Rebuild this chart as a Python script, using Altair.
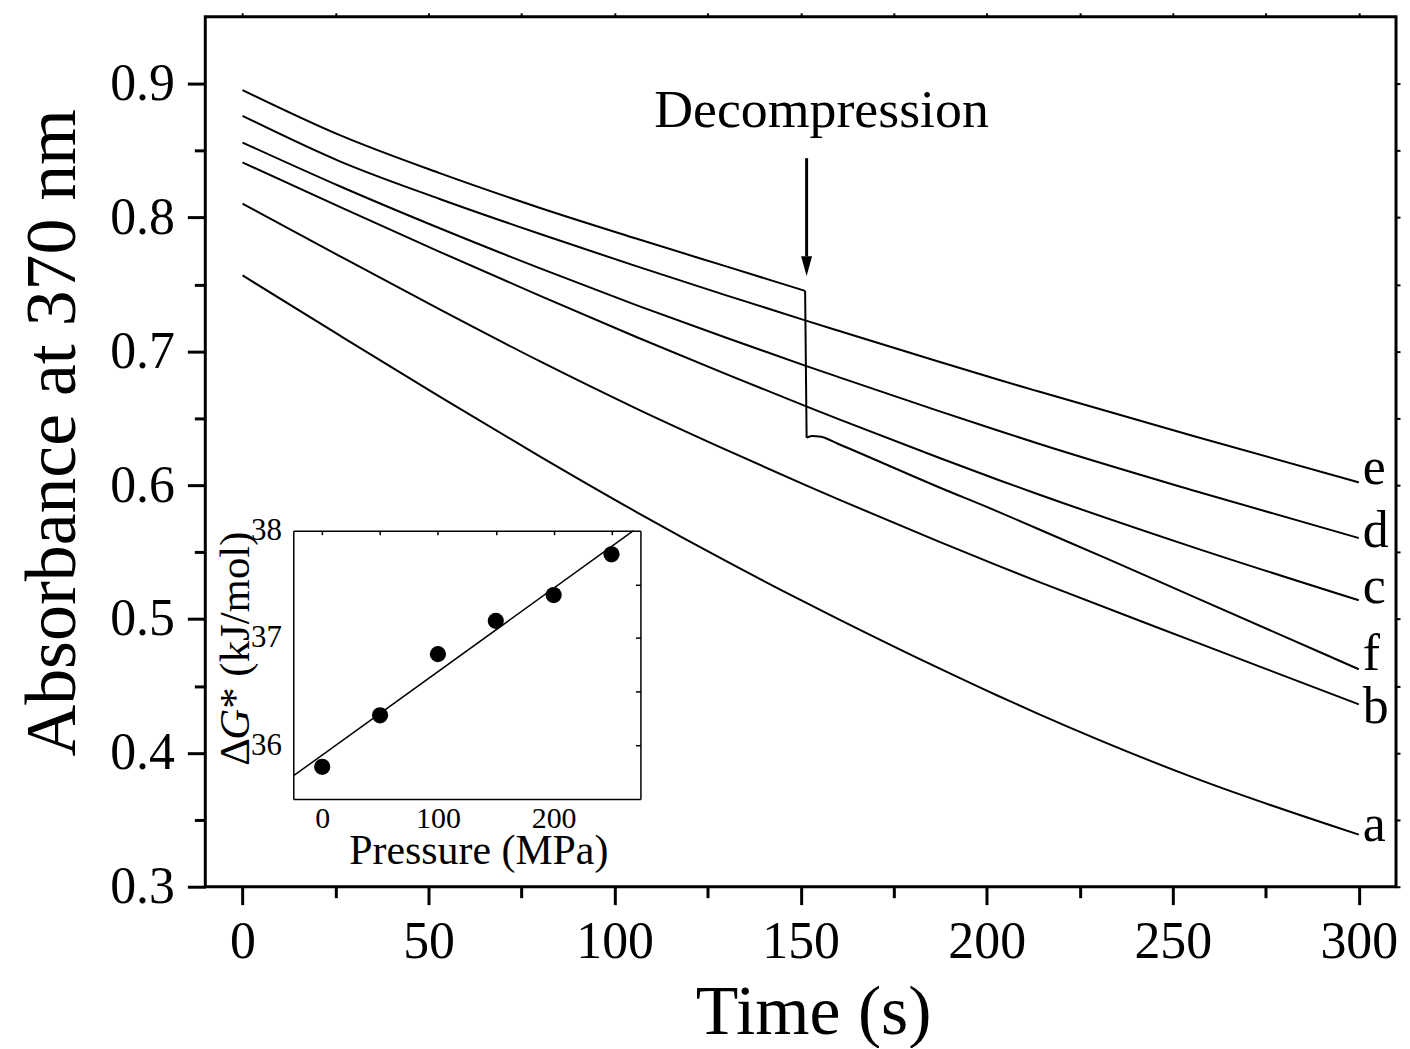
import altair as alt
import pandas as pd

# ---------------- main panel data ----------------
time_main = [0, 26, 53, 80, 106, 130, 151, 160, 187, 203, 214, 256, 300]
abs_a = [0.7568, 0.7121, 0.6662, 0.6214, 0.5798, 0.5433, 0.5128, 0.5002, 0.4635, 0.4427, 0.4290, 0.3811, 0.3389]
abs_b = [0.8104, 0.7714, 0.7314, 0.6925, 0.6571, 0.6264, 0.6004, 0.5896, 0.5580, 0.5399, 0.5278, 0.4829, 0.4363]
abs_c = [0.8412, 0.8082, 0.7744, 0.7415, 0.7106, 0.6830, 0.6595, 0.6496, 0.6207, 0.6041, 0.5931, 0.5532, 0.5140]
abs_d = [0.8561, 0.8236, 0.7920, 0.7620, 0.7344, 0.7102, 0.6896, 0.6810, 0.6556, 0.6409, 0.6310, 0.5957, 0.5605]
abs_e = [0.8760, 0.8422, 0.8139, 0.7877, 0.7635, 0.7419, 0.7234, 0.7156, 0.6924, 0.6790, 0.6700, 0.6364, 0.6021]
# curve f: decompression at ~151 s produces the sudden drop
time_f = [0, 26, 53, 80, 106, 130, 151.2, 151.6, 153, 155.5, 160, 187, 203, 214, 232, 256, 300]
abs_f = [0.8953, 0.8618, 0.8332, 0.8072, 0.7842, 0.7635, 0.7452, 0.6355, 0.6368, 0.6362, 0.6310, 0.5987, 0.5803, 0.5671, 0.5455, 0.5162, 0.4625]
jump_index = 6  # last point before the drop

label_names = ["a", "b", "c", "d", "e", "f"]
label_time = [300, 300, 300, 300, 300, 300]
label_abs = [0.3345, 0.4226, 0.5120, 0.5536, 0.6012, 0.4623]

annot_text = ["Decompression"]
annot_time = [155.6]
annot_abs = [0.868]
arrow_time = [151.6]
arrow_top = [0.8444]
arrow_base = [0.7710]
arrow_head = [0.7637]

x_major = [0, 50, 100, 150, 200, 250, 300]
x_minor = [25, 75, 125, 175, 225, 275]
x_all = [0, 25, 50, 75, 100, 125, 150, 175, 200, 225, 250, 275, 300]
y_major = [0.3, 0.4, 0.5, 0.6, 0.7, 0.8, 0.9]
y_minor = [0.35, 0.45, 0.55, 0.65, 0.75, 0.85]
y_all = [0.3, 0.35, 0.4, 0.45, 0.5, 0.55, 0.6, 0.65, 0.7, 0.75, 0.8, 0.85, 0.9]

# ---------------- inset data ----------------
pressure_mpa = [0, 50, 100, 150, 200, 250]
delta_g = [35.80, 36.28, 36.85, 37.16, 37.40, 37.78]
fit_mpa = [-25, 269]
fit_g = [35.715, 38.0]
inset_x_labels = [0, 100, 200]
inset_x_ticks = [0, 50, 100, 150, 200, 250]
inset_y_labels = [36, 37, 38]
inset_y_ticks = [36, 36.5, 37, 37.5]

FONT = "Liberation Serif"
W, H = 1195, 873

rows = []
for name, vals in [("a", abs_a), ("b", abs_b), ("c", abs_c), ("d", abs_d), ("e", abs_e)]:
    for t, v in zip(time_main, vals):
        rows.append({"curve": name, "t": t, "A": v})
for i, (t, v) in enumerate(zip(time_f, abs_f)):
    if i <= jump_index:
        rows.append({"curve": "f_before", "t": t, "A": v})
    if i >= jump_index + 1:
        rows.append({"curve": "f_after", "t": t, "A": v})
    if i in (jump_index, jump_index + 1):
        rows.append({"curve": "f_drop", "t": t, "A": v})
curves_df = pd.DataFrame(rows)
labels_df = pd.DataFrame({"label": label_names, "t": label_time, "A": label_abs})
annot_df = pd.DataFrame({"text": annot_text, "t": annot_time, "A": annot_abs})
arrow_df = pd.DataFrame({"t": arrow_time, "top": arrow_top, "base": arrow_base, "head": arrow_head})
inset_df = pd.DataFrame({"p": pressure_mpa, "g": delta_g})
fit_df = pd.DataFrame({"p": fit_mpa, "g": fit_g})


def xs():
    return alt.Scale(domain=[-10, 310], nice=False, zero=False)


def ys():
    return alt.Scale(domain=[0.3, 0.95], nice=False, zero=False)


def xin():
    return alt.Scale(domain=[-25, 275], range=[88.3, 436.7], nice=False, zero=False)


def yin():
    return alt.Scale(domain=[35.5, 38], range=[785, 515.7], nice=False, zero=False)


# main curves with labelled bottom/left axes
curves = alt.Chart(curves_df).mark_line(color="black", strokeWidth=2, interpolate="monotone").encode(
    x=alt.X("t:Q", scale=xs(), axis=alt.Axis(
        orient="bottom", values=x_major, tickSize=18, tickWidth=3, domain=False,
        labelFontSize=52, labelPadding=12, labelFlush=False, labelOverlap=False,
        title="Time (s)", titleFontSize=70, titleX=610, titleY=147,
        titleBaseline="alphabetic", titleAlign="center")),
    y=alt.Y("A:Q", scale=ys(), axis=alt.Axis(
        orient="left", values=y_major, format=".1f", tickSize=18, tickWidth=3, domain=False,
        labelFontSize=52, labelPadding=13, labelFlush=False, labelOverlap=False,
        title="Absorbance at 370 nm", titleFontSize=72, titleX=-131, titleY=417,
        titleAngle=270, titleBaseline="alphabetic", titleAlign="center")),
    detail="curve:N",
)

# curve letters + minor ticks
letters = alt.Chart(labels_df).mark_text(
    font=FONT, fontSize=52, align="left", baseline="alphabetic", dx=4, color="black"
).encode(
    x=alt.X("t:Q", scale=xs(), axis=alt.Axis(
        orient="bottom", values=x_minor, tickSize=11, tickWidth=3, domain=False,
        labels=False, title=None)),
    y=alt.Y("A:Q", scale=ys(), axis=alt.Axis(
        orient="left", values=y_minor, tickSize=11, tickWidth=3, domain=False,
        labels=False, title=None)),
    text="label:N",
)

# decompression text + mirrored top/right ticks
annot = alt.Chart(annot_df).mark_text(
    font=FONT, fontSize=54, align="center", baseline="alphabetic", color="black"
).encode(
    x=alt.X("t:Q", scale=xs(), axis=alt.Axis(
        orient="top", values=x_all, tickSize=4, tickWidth=2, domain=False,
        labels=False, title=None)),
    y=alt.Y("A:Q", scale=ys(), axis=alt.Axis(
        orient="right", values=y_all, tickSize=4, tickWidth=2, domain=False,
        labels=False, title=None)),
    text="text:N",
)

arrow_shaft = alt.Chart(arrow_df).mark_rule(color="black", strokeWidth=3).encode(
    x=alt.X("t:Q", scale=xs(), axis=None),
    y=alt.Y("top:Q", scale=ys(), axis=None),
    y2="base:Q",
)
arrow_tip = alt.Chart(arrow_df).mark_point(
    shape="M-0.55,-1L0.55,-1L0,1Z", size=400, filled=True, color="black", opacity=1
).encode(
    x=alt.X("t:Q", scale=xs(), axis=None),
    y=alt.Y("head:Q", scale=ys(), axis=None),
)

# inset points with labelled bottom/left axes
inset_pts = alt.Chart(inset_df).mark_circle(size=264, color="black", opacity=1).encode(
    x=alt.X("p:Q", scale=xin(), axis=alt.Axis(
        orient="bottom", offset=-88, values=inset_x_labels, ticks=False, tickSize=0,
        domain=True, domainColor="black", domainWidth=1.5,
        labelFontSize=30, labelPadding=5, labelFlush=False, labelOverlap=False,
        title="Pressure (MPa)", titleFontSize=42, titleX=274, titleY=65,
        titleBaseline="alphabetic", titleAlign="center")),
    y=alt.Y("g:Q", scale=yin(), axis=alt.Axis(
        orient="left", offset=-88.3, values=inset_y_labels, ticks=False, tickSize=0,
        domain=True, domainColor="black", domainWidth=1.5,
        labelFontSize=31, labelPadding=12, labelFlush=False, labelOverlap=False,
        title=None)),
)

# inset fit line with top/right frame (inward ticks)
inset_fit = alt.Chart(fit_df).mark_line(color="black", strokeWidth=1.5).encode(
    x=alt.X("p:Q", scale=xin(), axis=alt.Axis(
        orient="bottom", offset=-357.3, values=inset_x_ticks, tickSize=4, tickWidth=1.5,
        domain=True, domainColor="black", domainWidth=1.5, labels=False, title=None)),
    y=alt.Y("g:Q", scale=yin(), axis=alt.Axis(
        orient="left", offset=-436.7, values=inset_y_ticks, tickSize=5, tickWidth=1.5,
        domain=True, domainColor="black", domainWidth=1.5, labels=False, title=None)),
)

# inset y title: ΔG* (kJ/mol) with italic G
one = pd.DataFrame({"k": [0]})
t1 = alt.Chart(one).mark_text(text="Δ", font=FONT, fontSize=43, angle=270, align="left",
                              baseline="alphabetic", color="black").encode(
    x=alt.value(44), y=alt.value(751.7))
t2 = alt.Chart(one).mark_text(text="G", font=FONT, fontSize=43, fontStyle="italic", angle=270,
                              align="left", baseline="alphabetic", color="black").encode(
    x=alt.value(44), y=alt.value(725.4))
t3 = alt.Chart(one).mark_text(text="* (kJ/mol)", font=FONT, fontSize=43, angle=270, align="left",
                              baseline="alphabetic", color="black").encode(
    x=alt.value(44), y=alt.value(694.4))

chart = alt.layer(
    curves, letters, annot, arrow_shaft, arrow_tip, inset_pts, inset_fit, t1, t2, t3
).resolve_scale(
    x="independent", y="independent"
).resolve_axis(
    x="independent", y="independent"
).properties(
    width=W, height=H,
    background="white",
    autosize=alt.AutoSizeParams(type="none"),
    padding={"left": 198, "top": 7, "right": 6, "bottom": 160},
).configure_view(
    stroke="black", strokeWidth=3
).configure_axis(
    labelFont=FONT, titleFont=FONT, labelColor="black", titleColor="black",
    tickColor="black", domainColor="black", grid=False, titleFontWeight="normal",
)

chart.save("out.html", embed_options={"renderer": "svg", "actions": False})
